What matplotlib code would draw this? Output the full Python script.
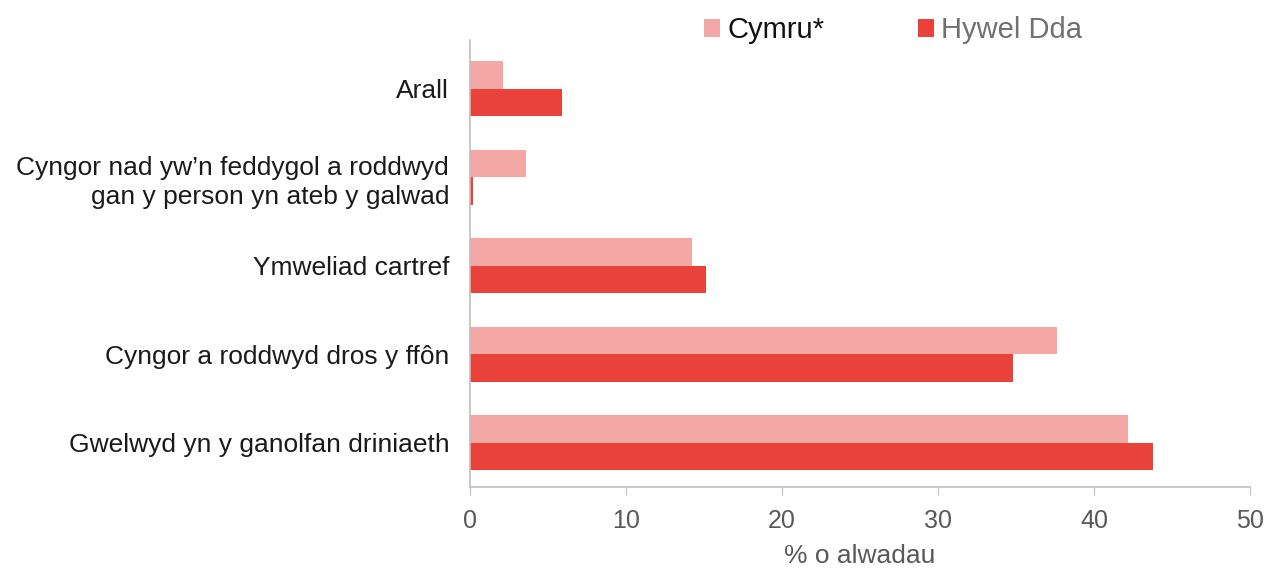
import matplotlib
matplotlib.use("Agg")
import matplotlib.pyplot as plt
import numpy as np

categories = ["Gwelwyd yn y ganolfan driniaeth",
              "Cyngor a roddwyd dros y ffôn",
              "Ymweliad cartref",
              "Cyngor nad yw’n feddygol a roddwyd\ngan y person yn ateb y galwad",
              "Arall"]
cymru = [42.2, 37.6, 14.2, 3.6, 2.1]
hywel_dda = [43.8, 34.8, 15.1, 0.2, 5.9]
series_names = ["Cymru*", "Hywel Dda"]
xticks = [0, 10, 20, 30, 40, 50]

plt.rcParams['font.family'] = ['Liberation Sans', 'DejaVu Sans']

fig = plt.figure(figsize=(12.67, 5.72), dpi=100)
ax = fig.add_axes([470/1267, 1-487/572, 780/1267, 447/572])

c_cym = "#F4A8A6"
c_hd = "#E8423A"
h = 0.31
y = np.arange(len(categories))
b1 = ax.barh(y + h/2, cymru, height=h, color=c_cym, label=series_names[0])
b2 = ax.barh(y - h/2, hywel_dda, height=h, color=c_hd, label=series_names[1])

ax.set_xlim(0, 50)
ax.set_ylim(-0.5, 4.55)
ax.set_xticks(xticks)
ax.set_xticklabels([str(t) for t in xticks], fontsize=18, color="#595959")
ax.set_yticks(y)
ax.set_yticklabels(categories, fontsize=19, color="#1a1a1a", linespacing=1.3)
ax.tick_params(axis='y', length=0, pad=15)
ax.tick_params(axis='x', length=6, color="#bfbfbf", pad=10, direction='out')
for s in ["top", "right"]:
    ax.spines[s].set_visible(False)
for s in ["left", "bottom"]:
    ax.spines[s].set_color("#bfbfbf")
    ax.spines[s].set_linewidth(1.2)
ax.set_xlabel("% o alwadau", fontsize=19, color="#595959", labelpad=8)

leg = ax.legend(handles=[b1, b2], loc="center left", bbox_to_anchor=(0.3, 1.022),
                ncol=2, frameon=False, fontsize=21, handlelength=0.55, handleheight=0.55,
                handletextpad=0.25, columnspacing=3.2, borderpad=0, borderaxespad=0)
leg.get_texts()[0].set_color("#111111")
leg.get_texts()[1].set_color("#707070")

fig.savefig("out.png", dpi=100)
